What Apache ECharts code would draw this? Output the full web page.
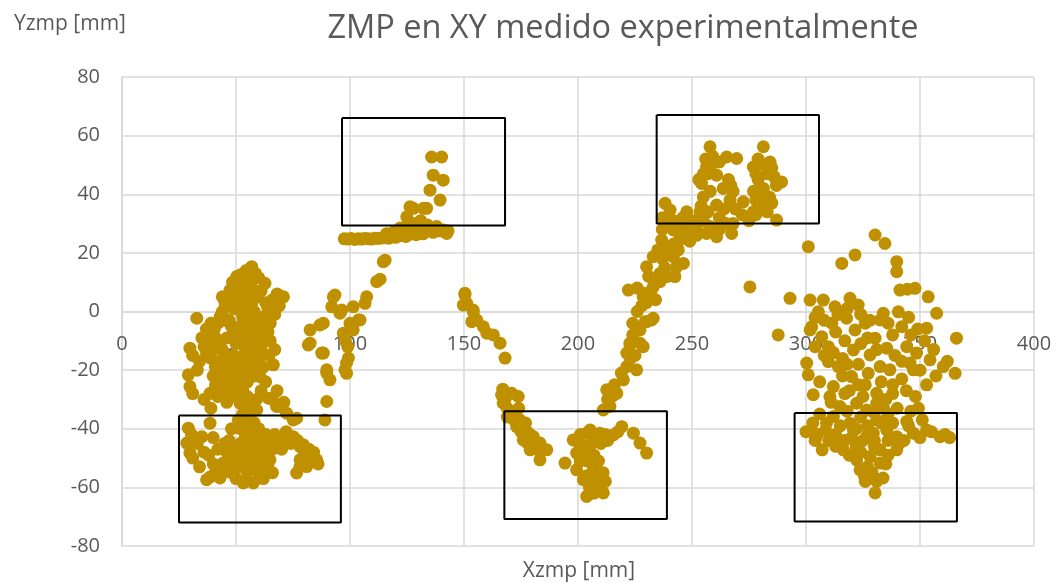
<!DOCTYPE html>
<html>
<head>
<meta charset="utf-8">
<script src="https://cdn.jsdelivr.net/npm/echarts@6/dist/echarts.min.js"></script>
<style>html,body{margin:0;padding:0;background:#fff}#c{width:1056px;height:583px}</style>
</head>
<body>
<div id="c"></div>
<script>
const titleText = 'ZMP en XY medido experimentalmente';
const xName = 'Xzmp [mm]';
const yName = 'Yzmp [mm]';
const xTicks = [0, 50, 100, 150, 200, 250, 300, 350, 400];
const yTicks = [-80, -60, -40, -20, 0, 20, 40, 60, 80];

// left cluster
const ptsLeft = [
[56.9,15.3],[54.5,14],[52,12.5],[50.3,11.9],[48.5,10],[47.4,7.3],[46,5],[45.2,2.8],[44,0],[43,-1.8],[42,-4],[40.5,-6],[38.6,-7.4],[37.5,-10],[37.1,-14.2],[36,-12],[39,-16],[41,-19],[43,-22],[44,-13],[46,-9],[47,-3],[49,1],[50,4],[51.5,7],[53,9.5],[55,11],[58.5,13],[60,11.5],[62.7,9.6],[61,7],[59,5],[57,3],[55,0],[53,-2],[52,-5],[51,-8],[50,-11],[49,-15],[48,-18],[50,-20],[52,-17],[54,-14],[56,-11],[58,-8],[60,-5],[62,-2],[64,1],[66,4],[68,6],[70.8,5],[69,2],[67,-1],[65,-4],[64,-7],[63,-10],[61,-13],[60,-16],[62,-19],[64.5,-15],[66.4,-18.2],[60.5,-22.2],[57,-21],[55,-24],[53,-27],[50.3,-24.5],[47,-26],[44,-28],[38.6,-27.9],[41,-25],[29.1,-21.6],[29.8,-25.6],[29.8,-12.5],[31,-15],[32.8,-2.3],[55,5],[57,8],[53,3],[58,0],[56,-4],[54,-7],[57,-14],[59,-18],[46,-15],[48,-5],[42,-10],[40,-13],[45,-20],
[44,-24],[46,-22],[48,-24],[50,-27],[52,-22],[54,-19],[56,-16],[58,-22],[43,-17],[41,-9],[39,-4],[37,-6],[35,-9],[34,-17],[33,-20],[40,-22],[42,-29],[46,-31],[49,-29],[53,-30],[55,-29],[57,-32],[61,-3],[63,3],[59,-2],[56,-7],[52,-10],[49,-7],[45,-3],[44,5],[48,3],[52,0],[58,-11],[60,-9],[62,-6],[65,-10],[67,-13],[63,-24],[68,-27],[66,-30],[71,-31],[61,-27],[59,-30],[39,-33],[36,-30],[31,-28],
[51.8,-31.3],[54,-33],[56,-35],[55,-38],[52,-40],[59.1,-33.6],[64.2,-29.6],[67.8,-32.4],[69.3,-32.4],[72.2,-34.7],[75.1,-37],[76.6,-36.4],[53,-35],[51,-37],[57,-40],
[29.1,-39.8],[28.4,-44.9],[29.8,-48.3],[30.5,-42],[35,-42.7],[38.6,-38.1],[37.1,-57.4],[38.6,-56.5],[41,-55],[43,-56.8],[44.4,-51.7],[46,-48],[47,-44],[48,-40],[49,-53],[50,-57],[51.8,-47.2],[53.2,-58.5],[54,-50],[55,-45],[56,-42],[57.6,-58.5],[58,-54],[59,-48],[60,-44],[61,-51],[62,-57],[63,-46],[64.9,-43.8],[64.9,-50.6],[66,-47],[68,-44],[69.3,-43.2],[71,-45],[73,-43],[75.1,-42.7],[77,-44],[78.1,-46.1],[79.5,-45.5],[78.1,-50.6],[76.6,-55.1],[78,-53],[81,-52.9],[83,-51],[85.4,-50.6],[66,-55],[64,-53],[52,-53],[48,-50],[45,-45],[42,-47],[40,-43],[33,-45],[31,-50],[36,-48],[56,-51],[60,-40],[58,-38],
[59,-42],[54,-43],[52,-45],[49,-46],[46,-52],[44,-55],[40,-52],[38,-49],[34,-53],[48,-55],[51,-50],[55,-55],[57,-47],[60,-55],[62,-48],[63,-42],[67,-42],[70,-47],[72,-41],[74,-45],[80,-49],[82,-47],[86,-52],[84,-48],
[89.8,-30.7],[89,-37],[89.8,-21],[88.3,-14.2],[81.7,-11.4],[82.5,-6.3],[86.8,-4.6],[82.5,-10.8],[87.6,-14.2],[91.2,-23.3],[89.8,-19.9],[88.3,-4],[92.7,5],[93.4,5.6],[92,1.6],[95.6,-0.6],[96.4,0.5],[97.1,-7.4],[97.8,-19.9],[98.5,-17.6],[98.5,-21.1],[99.3,-15.9],[101.4,-6.3],[101.4,1.6],[103.7,-2.9],[104.4,-2.9],[106.6,2.8],[107.3,5],[99,-12],[98,-10],[100,-4]
];
// rise and plateau around 100-145
const ptsPlateau = [
[111.7,10.2],[113.2,11],[114.6,17],[115.4,17.5],
[97.5,24.8],[99,24.7],[100.5,24.9],[102,24.6],[103.5,24.8],[105,24.7],[106.5,24.9],[108,24.8],[109.5,24.7],[111,25],[112.5,24.9],[114,25.1],[115.5,25.2],[117,25],[118.5,25.5],[120,25.3],[121.5,25.8],[123,26],[124.5,25.6],[126,26.3],[127.5,26.8],[129,26.2],[130.5,27],[132,26.5],[133.5,27.3],[135,27.8],[136.5,27],[138,28],[139.5,27.5],[141,27.8],[142.4,26.6],[143,27.5],[124.9,32.3],[126.3,35.7],[127.8,35.2],[132.2,35.2],[133.6,35.2],[128,30],[131,31],[122,28.5],[125,29],[134,29.5],[119,27],[116,26.5],[135.1,41.4],[139.5,38],[136.5,46.5],[140.9,44.8],[135.8,52.7],[140.2,52.7],[138,29]
];
// descent 150-230
const ptsValley = [
[150.4,6.2],[150.4,5.6],[151.2,2.8],[149.7,2.2],[154.1,-0.1],[154,0.5],[153.4,-3.5],[155.6,-2.9],[158.5,-5.2],[160,-7.4],[162.9,-8],[165.8,-10.8],[168,-15.9],
[166.5,-28.5],[167,-26.5],[170.9,-27.9],[173.8,-29],[167.2,-31.3],[169,-33],[171.6,-35.8],[173.1,-39.3],[174.5,-37],[176,-43.8],[177.5,-40.9],[179,-47.2],[180.4,-42.7],[181,-45.5],[183.3,-44.9],[183.3,-50.6],[186.3,-47.2],[175,-41],[178,-45],
[168,-30],[169,-36],[172,-37],[174,-33],[177,-38],[179,-42],[182,-47],
[194.3,-51.7],[197.9,-43.8],[199.4,-48.3],[199.4,-54],[201,-51],[202.3,-57.4],[203.8,-63.1],[205,-60],[207,-62],[209.6,-59.7],[211.1,-61.9],[208,-57],[206.7,-54],[204,-51],[202.3,-48.3],[203.8,-41.5],[205.3,-40.4],[206,-45],[207.5,-43],[209.6,-41.5],[212,-42],[215.5,-42.1],[217.5,-41],[219.2,-39.3],[224.3,-41.5],[227.2,-44.9],[230.1,-48.3],[201,-45],[204,-56],
[205,-47],[207,-49],[209,-51],[211,-55],[212,-58],[206,-58],[210,-45],[213,-44],[201,-42],[199,-44]
];
// ascent 210-290
const ptsRise = [
[211.1,-33.6],[214,-32.4],[212.6,-26.7],[217,-27.9],[219.9,-23.3],[221.4,-18.8],[225.7,-19.9],[221.4,-14.2],[222.8,-11.4],[228.6,-12],[222.8,-10.8],[227.2,-10.8],[227.2,-6.3],[229.4,-3.5],[230.1,-3.5],[232.3,-2.9],[233,-2.3],[222.1,7.3],[228.6,5],[228.6,6.2],[233,8.4],[236,10.2],[238.9,11.9],[242.5,11.9],[230.1,15.3],[233,18.7],[241.8,18.7],[246.2,16.4],[236.7,24.4],[241.8,27.8],[249.1,27.8],[256.4,26.6],[260.8,25.5],[267.4,26.6],[238.2,36.9],[240.4,34.6],[239,31],[237,28],[244,24],[247.7,34],[253.5,34],[245,30],[252,29],[235,21],[240,22],[244,21],[226,8],[231,12],[238,15],[234,4],
[224,-8],[225,-15],[223,-16],[219,-21],[216,-25],[215,-29],[213,-30],[224,-4],[226,0],[228,2],[230,3],[232,7],[234,10],[236,13],[237,18],[239,20],[242,23],[246,25],[249,24],[252,26],[243,15],[244,28],[246,32],[242,31],[237,32],
[257.9,56.2],[259,53],[262,51],[265.2,52.7],[269.6,52.2],[281.3,56.2],[284.2,51],[276.9,49.3],[283,47],[289.3,44.2],[286,46],[281.3,42],[256.4,49.3],[254.2,43.7],[260.8,46.5],[263.7,42],[266.7,38],[272.5,37.4],[276.9,34],[281.3,35.7],[287.1,31.2],[255,39.1],[260.8,36.3],[258,41],[268,41],[278,38],[279,45],[284,39],[257,47],[264,35],[269,35],
[255,47],[253,45],[256,52],[258,49],[266,45],[267,43],[277,41],[279,40],[280,37],[282,39],[283,34],[285,37],[278,47],[279,52],[282,50],[285,49],[287,43],[254,36],[257,34],[262,32],[265,30],[268,30],[272,33],[275,31],[278,33],[250,31],[252,31],[255,31],[258,29],[262,28],
[275.4,8.4],[293,4.5],[287.8,-8],[301,22.1]
];
// right cluster
const ptsRight = [
[330.3,26.1],[334.6,23.2],[321.5,19.3],[315.7,16.4],[339.8,17],[339.8,13.6],[341.2,7.3],[344.5,7.6],[347.8,7.9],[353.6,5],[357.3,-0.6],[352.9,-5.7],[366,-9.1],
[301.8,3.9],[307.6,3.9],[312.7,1.6],[319.3,4.5],[322.9,2.2],[305.4,-0.1],[317.8,-2.3],[333.9,-0.6],[340.5,-0.1],[332.5,-2.9],[342,-5.2],[302.5,-5.2],[311.3,-4],[321.5,-6.3],[330.3,-9.1],[301.8,-6.3],[306.9,-8.6],[309.8,-12],[320.8,-13.1],[328.1,-14.8],[335.4,-12.5],[344.2,-12],[348.5,-14.2],[354.4,-16.5],[360.2,-18.8],[365.4,-21.1],[300.3,-17.6],[301,-21.6],[309.8,-17.1],[314.2,-18.8],[320,-22.2],[327.3,-21.1],[332.5,-18.8],[336.8,-19.9],[345.6,-17.6],[347.1,-19.9],[352.9,-25],[303.2,-28.4],[312,-25.6],[310.5,-29],[314.9,-32.4],[322.2,-31.3],[331,-27.9],[331,-31.3],[326.6,-33.6],[349.3,-33],
[312,-35.8],[319.3,-38.1],[331,-37],[344.2,-37.5],[302.5,-41],[308.6,-40.4],[307.1,-47.2],[316.4,-47.2],[320.8,-40.4],[329.5,-41.5],[335.4,-40.4],[339.8,-42.7],[347.1,-41.5],[352.9,-40.4],[358.8,-42.7],[322.2,-50.6],[328.1,-49.5],[332.5,-47.2],[339.8,-47.2],[325.7,-56.3],[333.8,-56.8],[330.3,-61.9],[323.7,-54],[332.5,-51.7],
[313,-42],[317,-44],[325,-44],[327,-39],[330,-44],[336,-44],[343,-44],[311,-31],[318,-34],[324,-36],[329,-34],[335,-30],[338,-25],[342,-23],[326,-25],[323,-18],[317,-10],[313,-7],[326,-4],[338,-8],[346,-8],[305,-42],[310,-44],[322,-46],[335,-52],[327,-53],[317,-28],[306,-35],
[304,-2],[308,-3],[314,-1],[318,1],[324,-1],[328,-3],[336,-4],[345,-2],[349,-6],[352,-10],[356,-13],[362,-17],[304,-12],[308,-15],[312,-14],[316,-16],[324,-11],[327,-9],[331,-13],[339,-15],[342,-17],[350,-20],[357,-22],[306,-24],[316,-22],[319,-27],[325,-29],[333,-24],[338,-28],[344,-27],[348,-29],[340,-33],[336,-35],[315,-39],[322,-40],[327,-42],[333,-38],[338,-38],[345,-39],[350,-43],[355,-41],[361,-42],[363,-43],[304,-44],[309,-38],[313,-46],[319,-49],[324,-48],[330,-46],[336,-49],[341,-45],[326,-58],[329,-55],[331,-58],[320,-43],[303,-38],[300,-41],[318,-18],[323,-25],[334,-33],[346,-34],[351,-37]
];
const boxes = [
[25,-35.5,96,-72],
[96.5,66,168,29.3],
[167.7,-34,239,-70.8],
[234.5,67,305.7,30],
[295,-34.6,366.2,-71.6]
];

const points = ptsLeft.concat(ptsPlateau, ptsValley, ptsRise, ptsRight);
const boxSeries = boxes.map(b => ({
  type: 'line', z: 5, symbol: 'none', silent: true,
  lineStyle: { color: '#000', width: 2 },
  data: [[b[0],b[1]],[b[2],b[1]],[b[2],b[3]],[b[0],b[3]],[b[0],b[1]]]
}));

const GRID_TOP = 77, GRID_BOTTOM = 37, H = 583;
const plotH = H - GRID_TOP - GRID_BOTTOM;
const yMin = yTicks[0], yMax = yTicks[yTicks.length-1];
// move x axis (line + labels) up to y = 0 (where it crosses in the reference)
const xAxisOffset = -plotH * (0 - yMin) / (yMax - yMin);

const chart = echarts.init(document.getElementById('c'));
const FONT = 'Open Sans';
chart.setOption({
  animation: false,
  backgroundColor: '#fff',
  grid: { left: 122, right: 22, top: GRID_TOP, bottom: GRID_BOTTOM },
  xAxis: {
    type: 'value', min: xTicks[0], max: xTicks[xTicks.length-1], interval: 50,
    position: 'bottom', offset: xAxisOffset,
    axisLine: { onZero: false, lineStyle: { color: '#d9d9d9', width: 1.5 } },
    axisTick: { show: false },
    axisLabel: { color: '#595959', fontSize: 20, fontFamily: FONT, margin: 23 },
    splitLine: { lineStyle: { color: '#d9d9d9', width: 1.5 } }
  },
  yAxis: {
    type: 'value', min: yMin, max: yMax, interval: 20,
    axisLine: { show: true, onZero: false, lineStyle: { color: '#d9d9d9', width: 1.5 } },
    axisTick: { show: false },
    axisLabel: { color: '#595959', fontSize: 20, fontFamily: FONT, margin: 22 },
    splitLine: { lineStyle: { color: '#d9d9d9', width: 1.5 } }
  },
  graphic: [
    { type: 'text', x: 623, y: 29, style: { text: titleText, fill: '#595959', font: '32.5px "Open Sans"', textAlign: 'center', textVerticalAlign: 'middle' } },
    { type: 'text', x: 70, y: 24, style: { text: yName, fill: '#595959', font: '21px "Open Sans"', textAlign: 'center', textVerticalAlign: 'middle' } },
    { type: 'text', x: 579, y: 571, style: { text: xName, fill: '#595959', font: '21px "Open Sans"', textAlign: 'center', textVerticalAlign: 'middle' } }
  ],
  series: [{
    type: 'scatter', z: 2, symbol: 'circle', symbolSize: 13,
    itemStyle: { color: '#BF9000', opacity: 1 },
    data: points
  }].concat(boxSeries)
});
</script>
</body>
</html>
